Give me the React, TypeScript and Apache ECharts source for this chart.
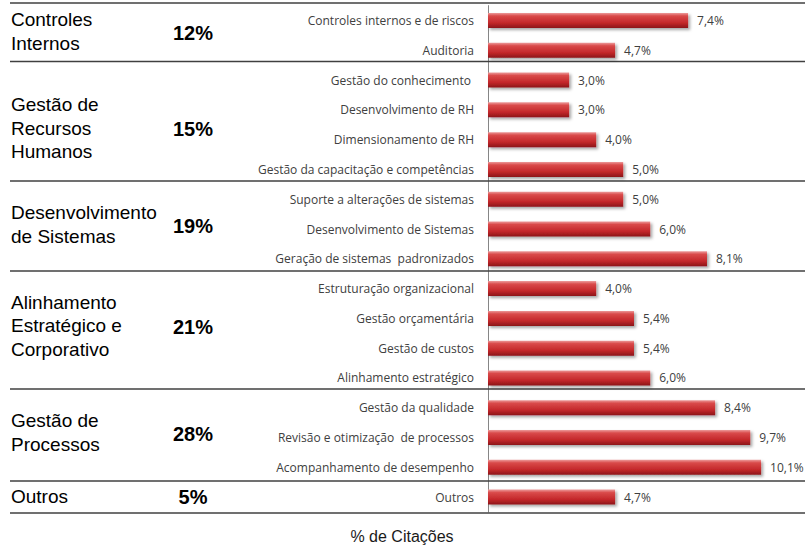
import React, { useEffect, useRef } from "react";
import * as echarts from "echarts";

const categories = [
  "Controles internos e de riscos",
  "Auditoria",
  "Gestão do conhecimento ",
  "Desenvolvimento de RH",
  "Dimensionamento de RH",
  "Gestão da capacitação e competências",
  "Suporte a alterações de sistemas",
  "Desenvolvimento de Sistemas",
  "Geração de sistemas  padronizados",
  "Estruturação organizacional",
  "Gestão orçamentária",
  "Gestão de custos",
  "Alinhamento estratégico",
  "Gestão da qualidade",
  "Revisão e otimização  de processos",
  "Acompanhamento de desempenho",
  "Outros",
];
const values = [7.4, 4.7, 3.0, 3.0, 4.0, 5.0, 5.0, 6.0, 8.1, 4.0, 5.4, 5.4, 6.0, 8.4, 9.7, 10.1, 4.7];

const groupNames = [
  "Controles\nInternos",
  "Gestão de\nRecursos\nHumanos",
  "Desenvolvimento\nde Sistemas",
  "Alinhamento\nEstratégico e\nCorporativo",
  "Gestão de\nProcessos",
  "Outros",
];
const groupPercents = ["12%", "15%", "19%", "21%", "28%", "5%"];
const groupLabelY = [31.5, 128, 224.5, 325.5, 432.5, 496];
const separatorY = [3, 61.5, 181, 271, 389, 481, 513];
const axisTitle = "% de Citações";

export default function App() {
  const ref = useRef<HTMLDivElement>(null);
  useEffect(() => {
    if (!ref.current) return;
    const chart = echarts.init(ref.current, undefined, { renderer: "svg" });
    const graphics: any[] = [];
    separatorY.forEach((y) => {
      graphics.push({
        type: "line",
        shape: { x1: 10, y1: y, x2: 805, y2: y },
        style: { stroke: "#404040", lineWidth: 1.5 },
        z: 1,
      });
    });
    groupNames.forEach((name, i) => {
      graphics.push({
        type: "text",
        x: 11,
        y: groupLabelY[i],
        style: {
          text: name,
          font: '19px "Liberation Sans", Arial, sans-serif',
          fill: "#000",
          textAlign: "left",
          textVerticalAlign: "middle",
          align: "left",
          verticalAlign: "middle",
          lineHeight: 23.5,
        },
      });
      graphics.push({
        type: "text",
        x: 193,
        y: groupLabelY[i] + 1,
        style: {
          text: groupPercents[i],
          font: 'bold 20px "Liberation Sans", Arial, sans-serif',
          fill: "#000",
          textAlign: "center",
          textVerticalAlign: "middle",
          align: "center",
          verticalAlign: "middle",
        },
      });
    });
    graphics.push({
      type: "text",
      x: 402,
      y: 536,
      style: {
        text: axisTitle,
        font: '16px "Liberation Sans", Arial, sans-serif',
        fill: "#1a1a1a",
        textAlign: "center",
        textVerticalAlign: "middle",
        align: "center",
        verticalAlign: "middle",
      },
    });

    chart.setOption({
      animation: false,
      grid: { left: 488, right: 26.6, top: 5.6, bottom: 41, containLabel: false },
      xAxis: {
        type: "value",
        min: 0,
        max: 11,
        axisLine: { show: false },
        axisTick: { show: false },
        axisLabel: { show: false },
        splitLine: { show: false },
      },
      yAxis: {
        type: "category",
        data: categories,
        inverse: true,
        axisLine: { show: true, lineStyle: { color: "#868686", width: 1 } },
        axisTick: { show: false },
        axisLabel: {
          margin: 14,
          fontSize: 12,
          color: "#404040",
          fontFamily: '"Open Sans", sans-serif',
        },
      },
      graphic: graphics,
      series: [
        {
          type: "bar",
          data: values,
          barWidth: 15,
          itemStyle: {
            color: new echarts.graphic.LinearGradient(0, 0, 0, 1, [
              { offset: 0, color: "#ec9a9a" },
              { offset: 0.2, color: "#d94a4a" },
              { offset: 0.65, color: "#c4282b" },
              { offset: 1, color: "#8c1518" },
            ]),
            shadowColor: "rgba(0,0,0,0.35)",
            shadowBlur: 3,
            shadowOffsetX: 2,
            shadowOffsetY: 2,
          },
          label: {
            show: true,
            position: "right",
            distance: 9,
            fontSize: 12,
            color: "#404040",
            fontFamily: '"Open Sans", sans-serif',
            formatter: (p: any) => p.value.toFixed(1).replace(".", ",") + "%",
          },
        },
      ],
    });
    return () => chart.dispose();
  }, []);
  return (
    <div
      ref={ref}
      style={{ position: "fixed", left: 0, top: 0, width: 812, height: 553, background: "#fff" }}
    />
  );
}
